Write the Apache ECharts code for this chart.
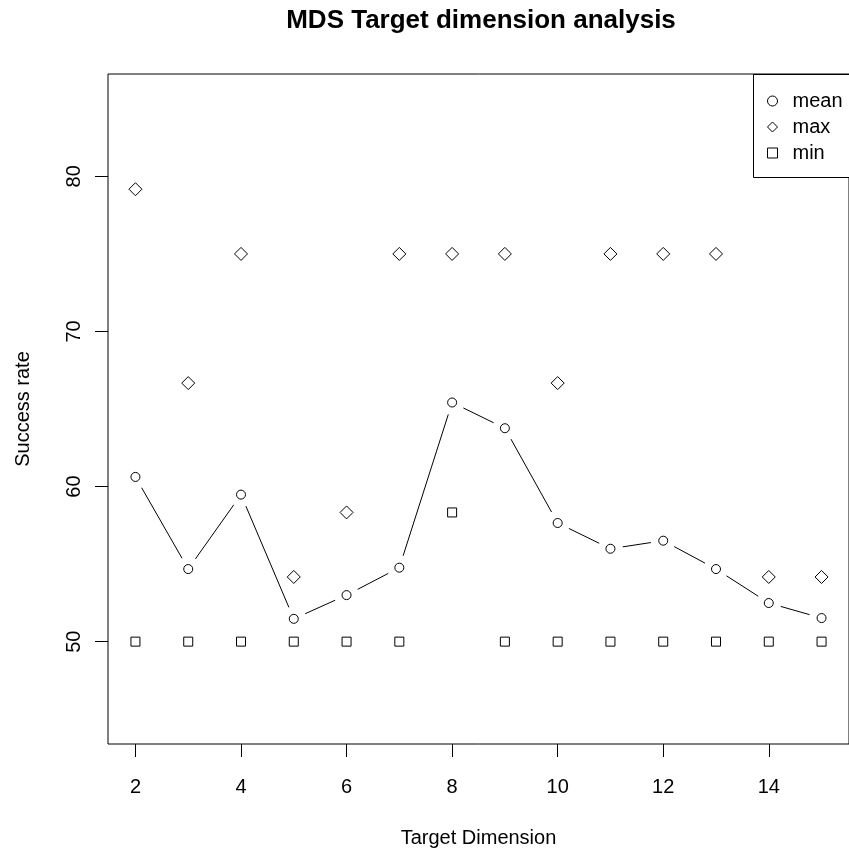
<!DOCTYPE html>
<html>
<head>
<meta charset="utf-8">
<script src="https://cdn.jsdelivr.net/npm/echarts@6/dist/echarts.min.js"></script>
<style>html,body{margin:0;padding:0;background:#fff}#c{width:849px;height:855px}</style>
</head>
<body>
<div id="c"></div>
<script>
// Data
const dims = [2, 3, 4, 5, 6, 7, 8, 9, 10, 11, 12, 13, 14, 15];
const meanVals = [60.62, 54.68, 59.48, 51.47, 53.0, 54.77, 65.42, 63.76, 57.65, 55.99, 56.51, 54.68, 52.49, 51.52];
const maxVals = [79.17, 66.67, 75, 54.17, 58.33, 75, 75, 75, 66.67, 75, 75, 75, 54.17, 54.17];
const minVals = [50, 50, 50, 50, 50, 50, 58.33, 50, 50, 50, 50, 50, 50, 50];
const xTicks = [2, 4, 6, 8, 10, 12, 14];
const yTicks = [50, 60, 70, 80];
const seriesNames = ['mean', 'max', 'min'];

const pair = vals => dims.map((d, i) => [d, vals[i]]);
// consecutive mean points joined as segments (R type = "b": gaps around points)
const meanSegments = dims.slice(0, -1).map((d, i) => [d, meanVals[i], dims[i + 1], meanVals[i + 1]]);
const GAP = 12.5;
const FONT = "'Liberation Sans', Arial, sans-serif";
const markStyle = {color: '#fff', borderColor: '#000', borderWidth: 1, opacity: 1};
const chart = echarts.init(document.getElementById('c'), null, {renderer: 'canvas'});
chart.setOption({
  animation: false,
  backgroundColor: '#fff',
  title: {
    text: 'MDS Target dimension analysis',
    left: 481, top: 8, textAlign: 'center', padding: 0,
    textStyle: {fontFamily: FONT, fontSize: 26, fontWeight: 'bold', color: '#000'}
  },
  grid: {left: 108, top: 74, width: 746, height: 670, containLabel: false,
         show: true, borderColor: '#000', borderWidth: 1, backgroundColor: 'transparent'},
  legend: {
    orient: 'vertical', left: 767, top: 91, padding: 0, itemGap: 6,
    itemWidth: 10, itemHeight: 10,
    data: [
      {name: seriesNames[0], icon: 'circle'},
      {name: seriesNames[1], icon: 'diamond'},
      {name: seriesNames[2], icon: 'rect'}
    ],
    itemStyle: {color: '#fff', borderColor: '#000', borderWidth: 1, opacity: 1},
    textStyle: {fontFamily: FONT, fontSize: 20, color: '#000', lineHeight: 20, padding: [0, 0, 0, 10]}
  },
  graphic: [{
    type: 'rect', z: 3, silent: true,
    shape: {x: 753.5, y: 74.5, width: 110, height: 103},
    style: {fill: '#fff', stroke: '#000', lineWidth: 1}
  }],
  xAxis: {
    type: 'value', min: 1.48, max: 15.52,
    name: 'Target Dimension', nameLocation: 'middle', nameGap: 84,
    nameTextStyle: {fontFamily: FONT, fontSize: 20, color: '#000'},
    axisLine: {show: false},
    splitLine: {show: false},
    axisTick: {show: true, inside: false, length: 13, customValues: xTicks, lineStyle: {color: '#000', width: 1}},
    axisLabel: {customValues: xTicks, margin: 33, fontFamily: FONT, fontSize: 20, color: '#000'}
  },
  yAxis: {
    type: 'value', min: 43.4, max: 86.6,
    name: 'Success rate', nameLocation: 'middle', nameGap: 75, nameRotate: 90,
    nameTextStyle: {fontFamily: FONT, fontSize: 20, color: '#000'},
    axisLine: {show: false},
    splitLine: {show: false},
    axisTick: {show: true, inside: false, length: 13, customValues: yTicks, lineStyle: {color: '#000', width: 1}},
    axisLabel: {customValues: yTicks, rotate: 90, margin: 24, fontFamily: FONT, fontSize: 20, color: '#000'}
  },
  series: [
    {
      name: 'meanLine', type: 'custom', coordinateSystem: 'cartesian2d', data: meanSegments,
      encode: {x: [0, 2], y: [1, 3]}, silent: true, z: 2,
      renderItem: function (params, api) {
        const p1 = api.coord([api.value(0), api.value(1)]);
        const p2 = api.coord([api.value(2), api.value(3)]);
        const dx = p2[0] - p1[0], dy = p2[1] - p1[1];
        const len = Math.sqrt(dx * dx + dy * dy);
        if (len <= 2 * GAP) return null;
        const ux = dx / len, uy = dy / len;
        return {
          type: 'line',
          shape: {x1: p1[0] + ux * GAP, y1: p1[1] + uy * GAP, x2: p2[0] - ux * GAP, y2: p2[1] - uy * GAP},
          style: {stroke: '#000', lineWidth: 1}
        };
      }
    },
    {
      name: seriesNames[0], type: 'scatter', data: pair(meanVals), symbol: 'circle', symbolSize: 9, z: 4,
      itemStyle: markStyle
    },
    {
      name: seriesNames[1], type: 'scatter', data: pair(maxVals), symbol: 'diamond', symbolSize: 13, z: 4,
      itemStyle: markStyle
    },
    {
      name: seriesNames[2], type: 'scatter', data: pair(minVals), symbol: 'rect', symbolSize: 9, z: 4,
      itemStyle: markStyle
    }
  ]
});
</script>
</body>
</html>
